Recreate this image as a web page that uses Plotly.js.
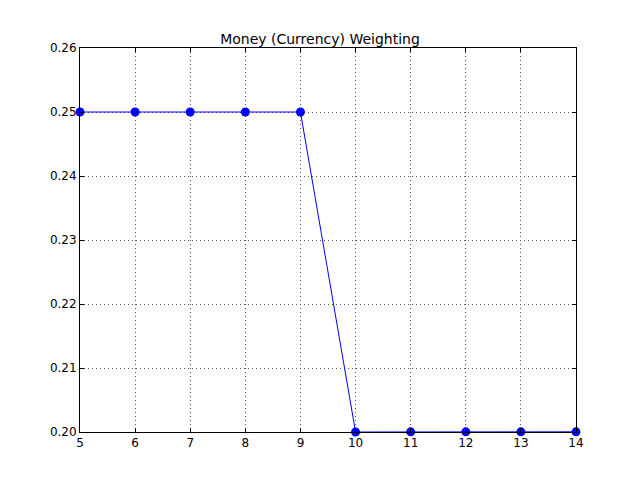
<!DOCTYPE html>
<html>
<head>
<meta charset="utf-8">
<script src="https://cdn.plot.ly/plotly-3.0.1.min.js"></script>
<style>
  body { margin: 0; background: #fff; }
  #chart { width: 640px; height: 480px; }
</style>
</head>
<body>
<div id="chart"></div>
<script>
const periods = [5, 6, 7, 8, 9, 10, 11, 12, 13, 14];
const weights = [0.25, 0.25, 0.25, 0.25, 0.25, 0.2, 0.20003, 0.20003, 0.20003, 0.20003];
const xTicks = [5, 6, 7, 8, 9, 10, 11, 12, 13, 14];
const yTicks = [0.20, 0.21, 0.22, 0.23, 0.24, 0.25, 0.26];

const axisStyle = {
    showgrid: true,
    gridcolor: '#555555',
    griddash: '1px,3px',
    gridwidth: 1,
    zeroline: false,
    showline: true,
    linecolor: '#000000',
    linewidth: 1,
    mirror: 'ticks',
    ticks: 'inside',
    ticklen: 4,
    tickcolor: '#000000',
    tickfont: { family: 'DejaVu Sans', size: 12, color: '#000000' }
};

Plotly.newPlot('chart', [{
    x: periods,
    y: weights,
    type: 'scatter',
    mode: 'lines+markers',
    line: { color: '#0000ff', width: 1 },
    marker: { color: '#0000ff', size: 9 },
    cliponaxis: false
}], {
    width: 640,
    height: 480,
    paper_bgcolor: '#ffffff',
    plot_bgcolor: '#ffffff',
    margin: { l: 80, r: 64, t: 48, b: 48 },
    showlegend: false,
    title: {
        text: 'Money (Currency) Weighting',
        font: { family: 'DejaVu Sans', size: 14, color: '#000000' },
        x: 0.5, xanchor: 'center',
        y: 1 - 44 / 480, yanchor: 'bottom'
    },
    xaxis: { ...axisStyle, range: [5, 14], tickvals: xTicks, ticktext: xTicks.map(String) },
    yaxis: { ...axisStyle, range: [0.20, 0.26], tickvals: yTicks, ticktext: yTicks.map(v => v.toFixed(2)) }
}, { displayModeBar: false });
</script>
</body>
</html>
